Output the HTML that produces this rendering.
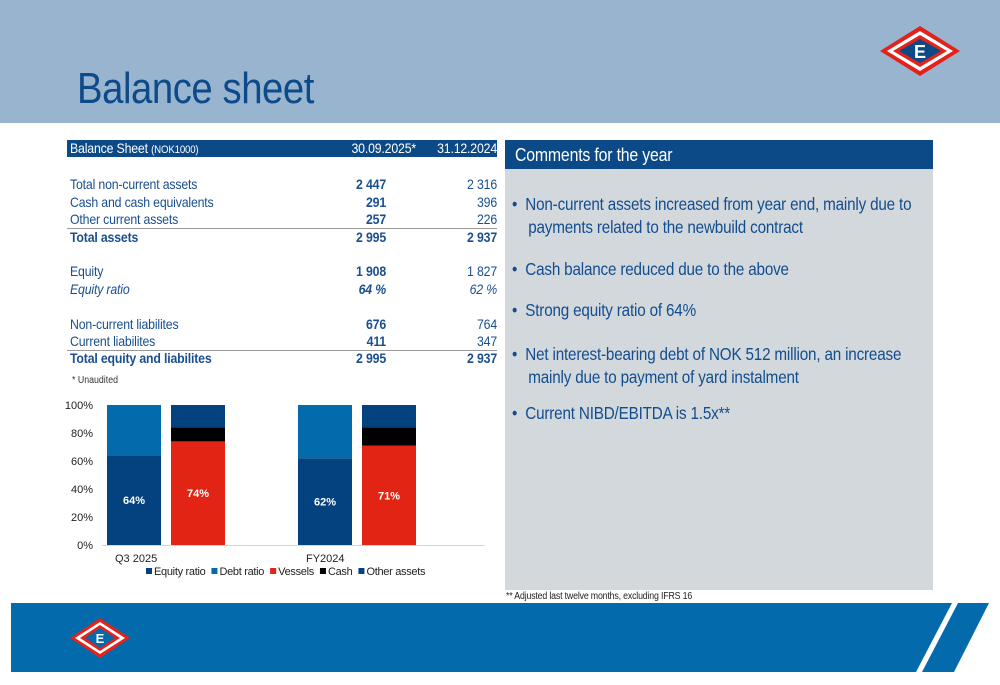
<!DOCTYPE html>
<html><head><meta charset="utf-8"><style>
body{margin:0;width:1000px;height:685px;position:relative;background:#fff;font-family:"Liberation Sans",sans-serif;overflow:hidden}
.a{position:absolute}
.t{font-size:14px;color:#1a4f8f;letter-spacing:-0.2px;white-space:nowrap;transform:scaleX(.88);transform-origin:left}
.r{text-align:right;width:70px;transform-origin:right}
.b{font-weight:bold}
.bul{font-size:17.5px;color:#124d8e;letter-spacing:-0.2px;line-height:23px;white-space:nowrap;transform:scaleX(.87);transform-origin:left}
</style></head><body>
<div class="a" style="left:0;top:0;width:1000px;height:123px;background:#98b4cf"></div>
<div class="a" style="left:77px;top:64px;font-size:44px;color:#0d4a8a;letter-spacing:-0.5px;transform:scaleX(.87);transform-origin:left;white-space:nowrap">Balance sheet</div>
<svg class="a" style="left:878px;top:25px" width="84" height="52" viewBox="0 0 84 52">
<polygon points="2,26 42,1 82,26 42,51" fill="#e3231b"/><polygon points="9,26 42,6 75,26 42,46" fill="#fff"/><polygon points="15,26 42,10 69,26 42,42" fill="#e3231b"/><polygon points="21,26 42,14 63,26 42,38" fill="#0b4a87"/>
<text x="42" y="33" fill="#fff" font-size="18" font-weight="bold" text-anchor="middle" font-family="Liberation Sans">E</text></svg>

<div class="a" style="left:67px;top:140px;width:430px;height:17px;background:#0b4a87"></div>
<div class="a t" style="left:70px;top:140px;color:#fff">Balance Sheet <span style="font-size:11px">(NOK1000)</span></div>
<div class="a t r" style="left:336px;top:140px;width:80px;color:#fff">30.09.2025*</div>
<div class="a t r" style="left:417px;top:140px;width:80px;color:#fff">31.12.2024</div>

<div>
<div class="a t" style="left:70px;top:176px">Total non-current assets</div><div class="a t r b" style="left:316px;top:176px">2 447</div><div class="a t r" style="left:427px;top:176px">2 316</div>
<div class="a t" style="left:70px;top:194px">Cash and cash equivalents</div><div class="a t r b" style="left:316px;top:194px">291</div><div class="a t r" style="left:427px;top:194px">396</div>
<div class="a t" style="left:70px;top:211px">Other current assets</div><div class="a t r b" style="left:316px;top:211px">257</div><div class="a t r" style="left:427px;top:211px">226</div>
<div class="a" style="left:67px;top:228px;width:430px;height:1px;background:#999"></div>
<div class="a t b" style="left:70px;top:229px">Total assets</div><div class="a t r b" style="left:316px;top:229px">2 995</div><div class="a t r b" style="left:427px;top:229px">2 937</div>
<div class="a t" style="left:70px;top:263px">Equity</div><div class="a t r b" style="left:316px;top:263px">1 908</div><div class="a t r" style="left:427px;top:263px">1 827</div>
<div class="a t" style="left:70px;top:281px;font-style:italic">Equity ratio</div><div class="a t r b" style="left:316px;top:281px;font-style:italic">64 %</div><div class="a t r" style="left:427px;top:281px;font-style:italic">62 %</div>
<div class="a t" style="left:70px;top:316px">Non-current liabilites</div><div class="a t r b" style="left:316px;top:316px">676</div><div class="a t r" style="left:427px;top:316px">764</div>
<div class="a t" style="left:70px;top:333px">Current liabilites</div><div class="a t r b" style="left:316px;top:333px">411</div><div class="a t r" style="left:427px;top:333px">347</div>
<div class="a" style="left:67px;top:350px;width:430px;height:1px;background:#999"></div>
<div class="a t b" style="left:70px;top:350px">Total equity and liabilites</div><div class="a t r b" style="left:316px;top:350px">2 995</div><div class="a t r b" style="left:427px;top:350px">2 937</div>
</div>
<div class="a" style="left:72px;top:375px;font-size:10px;color:#333;transform:scaleX(.88);transform-origin:left">* Unaudited</div>

<svg class="a" id="chart" style="left:60px;top:390px" width="440" height="200"></svg>

<div class="a" style="left:505px;top:140px;width:428px;height:450px;background:#d3d8dd"></div>
<div class="a" style="left:505px;top:140px;width:428px;height:29px;background:#0b4a87"></div>
<div class="a" style="left:515px;top:145px;font-size:18px;color:#fff;letter-spacing:-0.2px;transform:scaleX(.88);transform-origin:left;white-space:nowrap">Comments for the year</div>
<div class="a bul" style="left:512px;top:193px">•&nbsp; Non-current assets increased from year end, mainly due to<br>&nbsp;&nbsp;&nbsp;&nbsp;payments related to the newbuild contract</div>
<div class="a bul" style="left:512px;top:258px">•&nbsp; Cash balance reduced due to the above</div>
<div class="a bul" style="left:512px;top:299px">•&nbsp; Strong equity ratio of 64%</div>
<div class="a bul" style="left:512px;top:343px">•&nbsp; Net interest-bearing debt of NOK 512 million, an increase<br>&nbsp;&nbsp;&nbsp;&nbsp;mainly due to payment of yard instalment</div>
<div class="a bul" style="left:512px;top:402px">•&nbsp; Current NIBD/EBITDA is 1.5x**</div>
<div class="a" style="left:506px;top:591px;font-size:10px;color:#222;letter-spacing:-0.2px;transform:scaleX(.88);transform-origin:left;white-space:nowrap">** Adjusted last twelve months, excluding IFRS 16</div>

<svg class="a" style="left:0;top:0" width="1000" height="685">
<polygon points="11,603 952,603 916,672 11,672" fill="#036aab"/>
<polygon points="958,603 989,603 954,672 922,672" fill="#036aab"/>
<g transform="translate(100,638)"><polygon points="-30,0 0,-20 30,0 0,20" fill="#e3231b"/><polygon points="-25,0 0,-16 25,0 0,16" fill="#fff"/><polygon points="-20,0 0,-13 20,0 0,13" fill="#e3231b"/><polygon points="-15,0 0,-10 15,0 0,10" fill="#036aab"/><text x="0" y="5" fill="#fff" font-size="13" font-weight="bold" text-anchor="middle" font-family="Liberation Sans">E</text></g>
</svg>

<script>
const categories=["Q3 2025","FY2024"];
const equityRatio=[64,62];
const vessels=[74,71];
const cash=[10,13];
const yTicks=[0,20,40,60,80,100];
const NS="http://www.w3.org/2000/svg";
const svg=document.getElementById('chart');
const y0=155,y1=15;
const y=v=>y0-(v/100)*(y0-y1);
const groupX=[47,238],bw=54,gap=10;
function el(t,a){const e=document.createElementNS(NS,t);for(const k in a)e.setAttribute(k,a[k]);svg.appendChild(e);return e;}
yTicks.forEach(v=>{const t=el('text',{x:33,y:y(v)+4,'text-anchor':'end','font-size':11,fill:'#222'});t.textContent=v+'%';

});
const ax=el('line',{x1:42,x2:425,y1:y0+0.5,y2:y0+0.5,stroke:'#c8d6e6','stroke-width':1});


function bar(x,a,b,c,name){const r=el('rect',{x:x,y:y(b),width:bw,height:y(a)-y(b),fill:c});

}
function lab(x,v,yy){const t=el('text',{x:x+bw/2,y:yy,'text-anchor':'middle','font-size':11,'font-weight':'bold',fill:'#fff'});t.textContent=v+'%';

}
categories.forEach((c,i)=>{
 const x=groupX[i];
 bar(x,0,equityRatio[i],'#03427f','bar-equity-ratio');
 bar(x,equityRatio[i],100,'#036aab','bar-debt-ratio');
 const x2=x+bw+gap;
 bar(x2,0,vessels[i],'#e22415','bar-vessels');
 bar(x2,vessels[i],vessels[i]+cash[i],'#000','bar-cash');
 bar(x2,vessels[i]+cash[i],100,'#03427f','bar-other-assets');
 lab(x,equityRatio[i],y(equityRatio[i]/2)+4);
 lab(x2,vessels[i],y(vessels[i]/2)+4);
 const t=el('text',{x:x+8,y:y0+17,'font-size':11,fill:'#222'});t.textContent=c;
 
 
});
const legend=[["Equity ratio","#03427f"],["Debt ratio","#036aab"],["Vessels","#e22415"],["Cash","#000"],["Other assets","#03427f"]];
let lx=86;
legend.forEach(([n,c])=>{
 const r=el('rect',{x:lx,y:178,width:6,height:6,fill:c});
 
 
 const t=el('text',{x:lx+8,y:185,'font-size':11,fill:'#222','letter-spacing':'-0.3'});t.textContent=n;
 
 
 lx+=t.getComputedTextLength()+14;
});
</script>
</body></html>
